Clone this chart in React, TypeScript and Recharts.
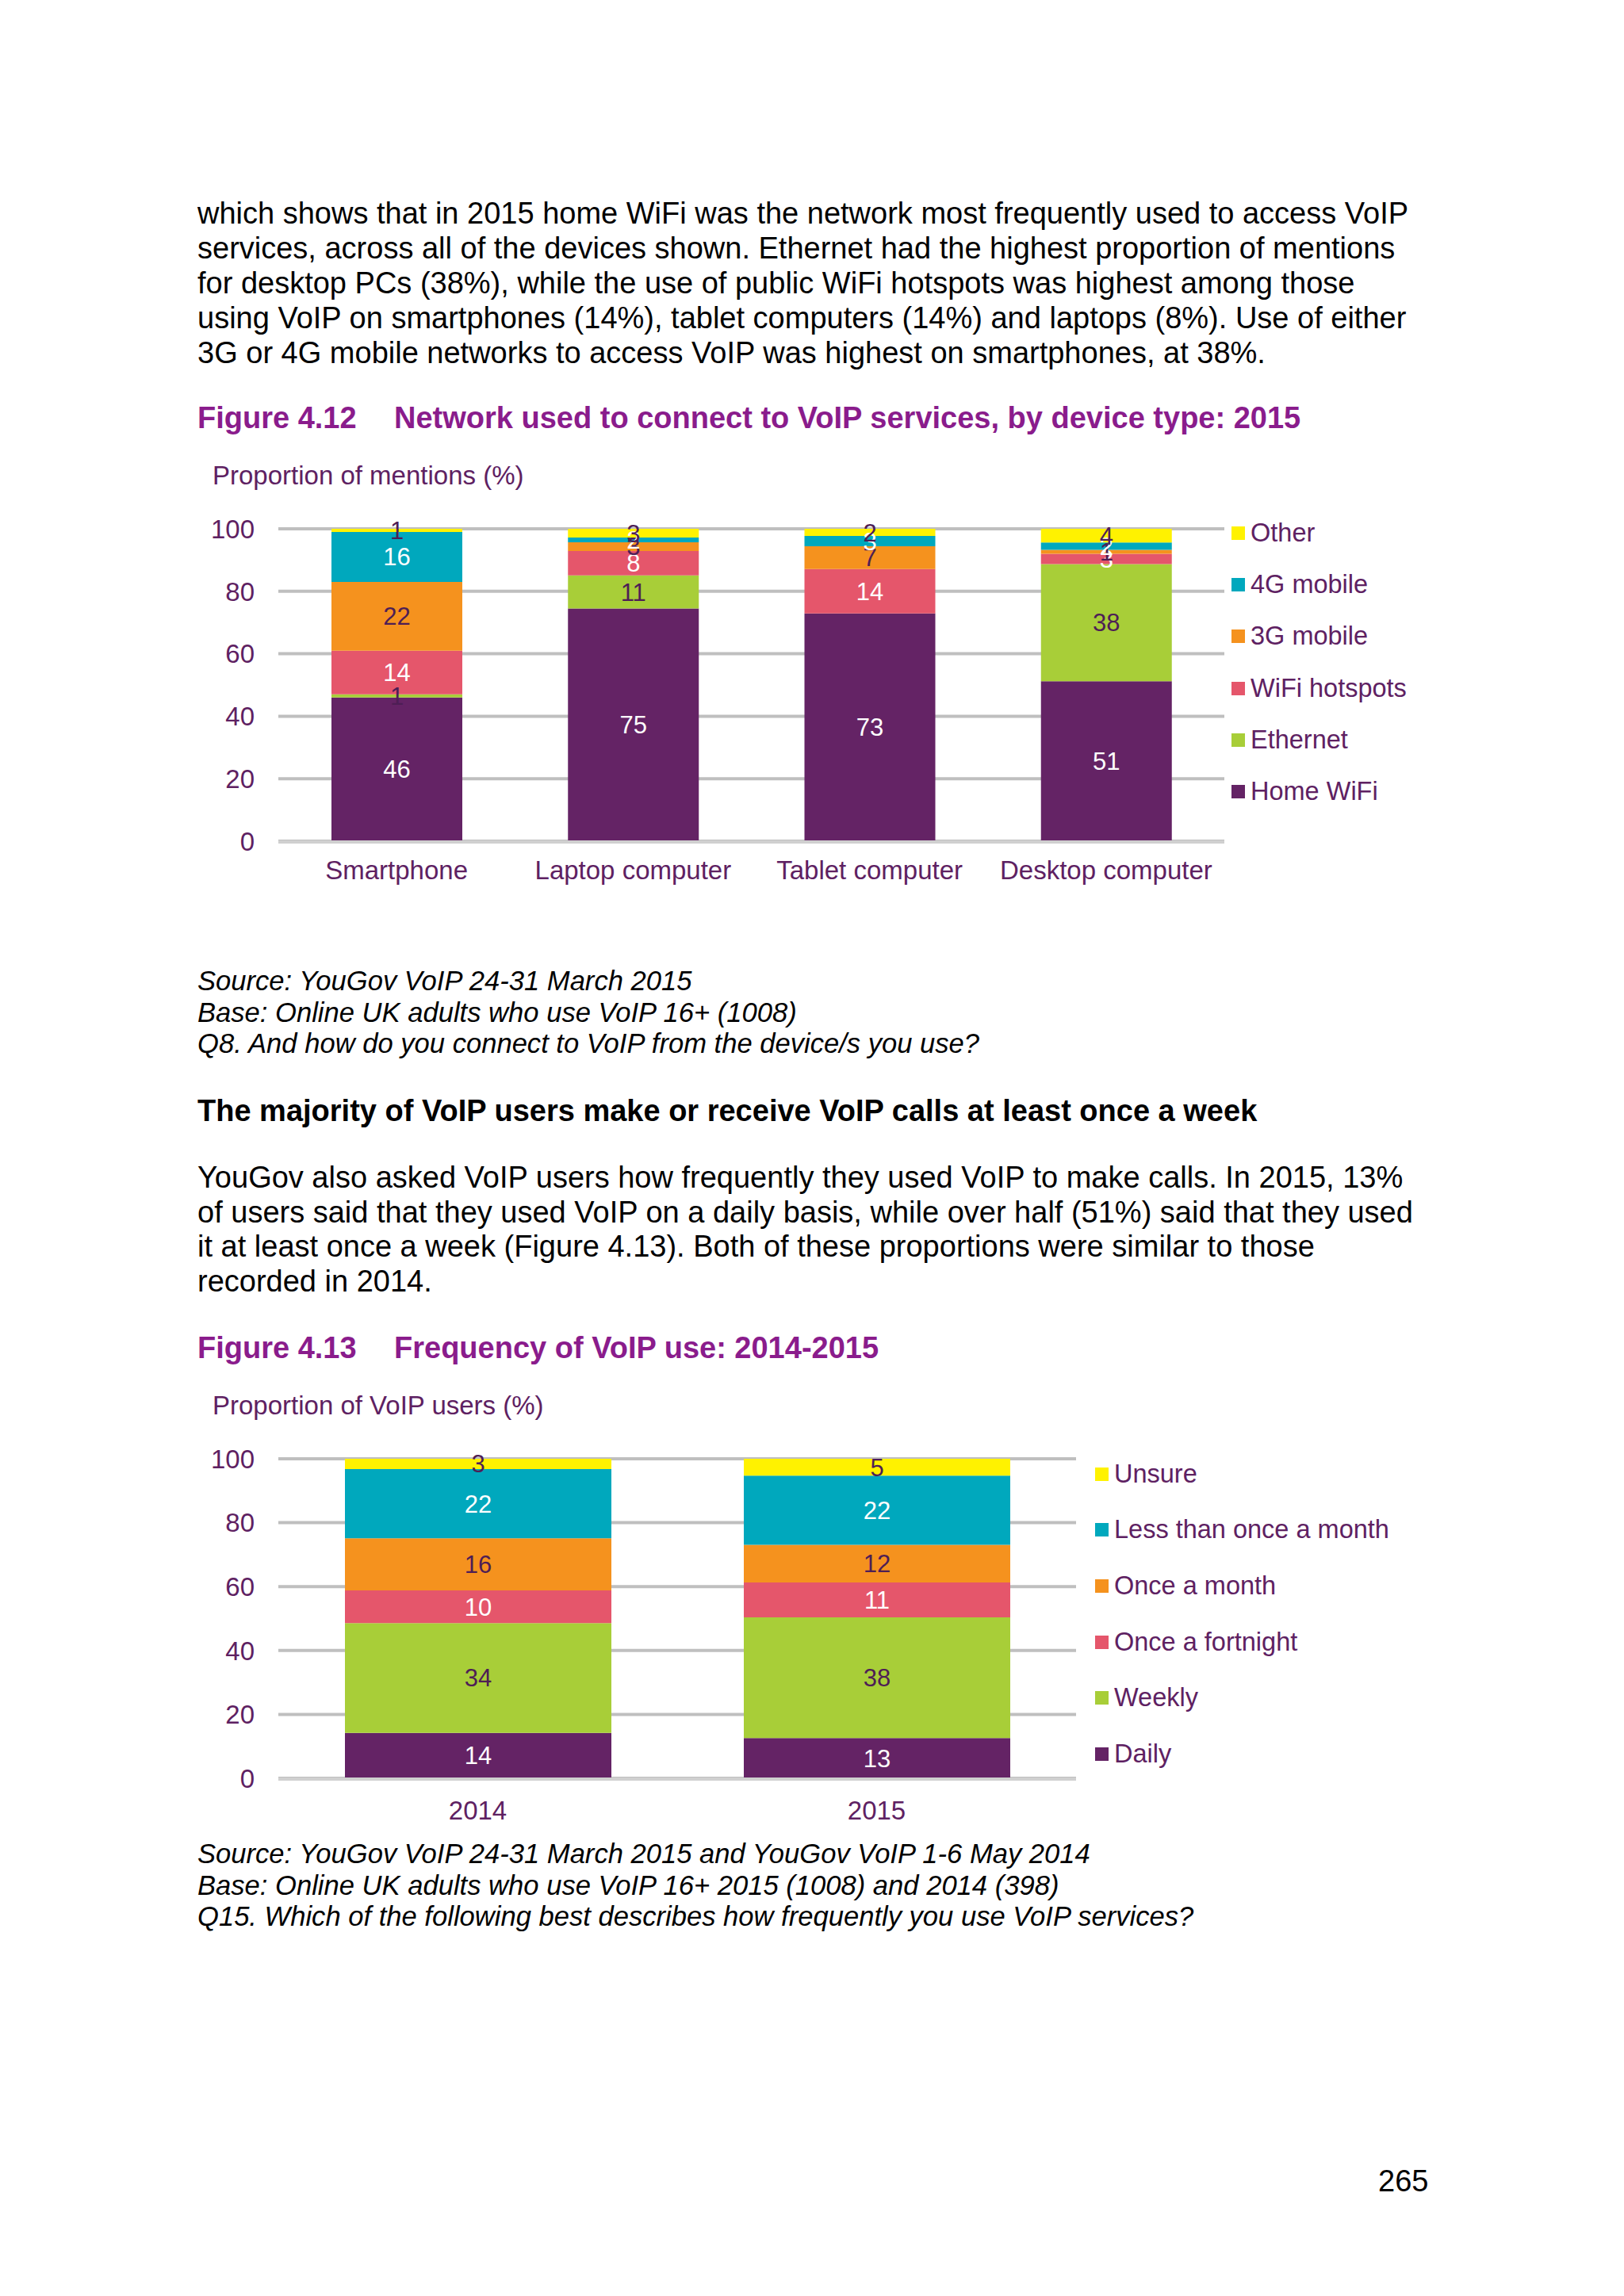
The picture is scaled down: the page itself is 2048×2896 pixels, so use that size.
import React from "react";
import {
  BarChart,
  Bar,
  XAxis,
  YAxis,
  CartesianGrid,
  LabelList,
  Legend,
} from "recharts";

// ============================================================================
// Data
// ============================================================================

const devices = ["Smartphone", "Laptop computer", "Tablet computer", "Desktop computer"];
const homeWifi = [46, 74.5, 72.9, 51.2];
const ethernet = [1, 10.6, 0, 37.5];
const wifiHotspots = [14, 7.8, 14.2, 3.3];
const mobile3g = [22, 2.8, 7.3, 1.3];
const mobile4g = [16, 1.5, 3.3, 2.3];
const otherNet = [1, 2.8, 2.3, 4.4];

const years = ["2014", "2015"];
const daily = [14.2, 12.6];
const weekly = [34.4, 37.8];
const fortnightly = [10.2, 10.9];
const monthly = [16.3, 11.8];
const lessThanMonthly = [21.7, 21.6];
const unsure = [3.2, 5.3];

const yTicks = [0, 20, 40, 60, 80, 100];

// ============================================================================
// Theme
// ============================================================================

const FONT = '"Liberation Sans", Arial, Helvetica, sans-serif';
const TITLE = "#8A1C8C";
const CHART_TEXT = "#5E2162";
const DARK_LABEL = "#4E1E55";
const GRID = "#BFBFBF";

const C = {
  purple: "#642365",
  lime: "#A8CE38",
  pink: "#E5566B",
  orange: "#F5921E",
  teal: "#00A8BD",
  yellow: "#FFF200",
};

const networkSeries = [
  { key: "home", name: "Home WiFi", values: homeWifi, color: C.purple, label: "#fff" },
  { key: "eth", name: "Ethernet", values: ethernet, color: C.lime, label: DARK_LABEL },
  { key: "hot", name: "WiFi hotspots", values: wifiHotspots, color: C.pink, label: "#fff" },
  { key: "g3", name: "3G mobile", values: mobile3g, color: C.orange, label: DARK_LABEL },
  { key: "g4", name: "4G mobile", values: mobile4g, color: C.teal, label: "#fff" },
  { key: "oth", name: "Other", values: otherNet, color: C.yellow, label: DARK_LABEL },
];

const freqSeries = [
  { key: "daily", name: "Daily", values: daily, color: C.purple, label: "#fff" },
  { key: "weekly", name: "Weekly", values: weekly, color: C.lime, label: DARK_LABEL },
  { key: "fort", name: "Once a fortnight", values: fortnightly, color: C.pink, label: "#fff" },
  { key: "month", name: "Once a month", values: monthly, color: C.orange, label: DARK_LABEL },
  { key: "less", name: "Less than once a month", values: lessThanMonthly, color: C.teal, label: "#fff" },
  { key: "unsure", name: "Unsure", values: unsure, color: C.yellow, label: DARK_LABEL },
];

type Series = typeof networkSeries;

function buildRows(cats: string[], series: Series) {
  return cats.map((cat, i) => {
    const row: Record<string, string | number> = { cat };
    series.forEach((s) => {
      row[s.key] = s.values[i];
    });
    return row;
  });
}

// ============================================================================
// Page text
// ============================================================================

const para1 = [
  "which shows that in 2015 home WiFi was the network most frequently used to access VoIP",
  "services, across all of the devices shown. Ethernet had the highest proportion of mentions",
  "for desktop PCs (38%), while the use of public WiFi hotspots was highest among those",
  "using VoIP on smartphones (14%), tablet computers (14%) and laptops (8%). Use of either",
  "3G or 4G mobile networks to access VoIP was highest on smartphones, at 38%.",
];

const para2 = [
  "YouGov also asked VoIP users how frequently they used VoIP to make calls. In 2015, 13%",
  "of users said that they used VoIP on a daily basis, while over half (51%) said that they used",
  "it at least once a week (Figure 4.13). Both of these proportions were similar to those",
  "recorded in 2014.",
];

const source1 = [
  "Source: YouGov VoIP 24-31 March 2015",
  "Base: Online UK adults who use VoIP 16+ (1008)",
  "Q8. And how do you connect to VoIP from the device/s you use?",
];

const source2 = [
  "Source: YouGov VoIP 24-31 March 2015 and YouGov VoIP 1-6 May 2014",
  "Base: Online UK adults who use VoIP 16+ 2015 (1008) and 2014 (398)",
  "Q15. Which of the following best describes how frequently you use VoIP services?",
];

function TextBlock({
  lines,
  top,
  left = 249,
  lineHeight = 44,
  style,
}: {
  lines: string[];
  top: number;
  left?: number;
  lineHeight?: number;
  style?: React.CSSProperties;
}) {
  return (
    <div style={{ position: "absolute", top, left, ...style }}>
      {lines.map((l, i) => (
        <div key={i} style={{ height: lineHeight, lineHeight: `${lineHeight}px`, whiteSpace: "nowrap" }}>
          {l}
        </div>
      ))}
    </div>
  );
}

// ============================================================================
// Chart
// ============================================================================

interface StackedProps {
  cats: string[];
  series: Series;
  width: number;
  height: number;
  margin: { top: number; right: number; bottom: number; left: number };
  barSize: number;
  xLabelMargin: number;
  legendLeft: number;
  legendTop: number;
  legendRow: number;
}

function StackedChart({
  cats,
  series,
  width,
  height,
  margin,
  barSize,
  xLabelMargin,
  legendLeft,
  legendTop,
  legendRow,
}: StackedProps) {
  const rows = buildRows(cats, series);
  const frameTicks = cats.map((_, i) => i).concat(cats.length);
  const order = series.map((s) => s.key);

  return (
    <BarChart width={width} height={height} data={rows} margin={margin} barSize={barSize}>
      <CartesianGrid vertical={false} stroke={GRID} strokeWidth={4} />
      <XAxis
        dataKey="cat"
        height={1}
        axisLine={false}
        tickLine={false}
        tickSize={0}
        tickMargin={xLabelMargin}
        tick={{ fill: CHART_TEXT, fontSize: 33 }}
        interval={0}
      />
      <XAxis
        xAxisId="frame"
        type="number"
        domain={[0, cats.length]}
        ticks={frameTicks}
        allowDataOverflow
        height={1}
        tick={false}
        tickSize={11}
        tickLine={{ stroke: "#CFCFCF", strokeWidth: 3 }}
        axisLine={{ stroke: "#D0D0D0", strokeWidth: 4 }}
      />
      <YAxis
        domain={[0, 100]}
        ticks={yTicks}
        allowDataOverflow
        width={101}
        axisLine={false}
        tickLine={false}
        tickSize={0}
        tickMargin={30}
        tick={{ fill: CHART_TEXT, fontSize: 33 }}
      />
      <Legend
        layout="vertical"
        align="center"
        verticalAlign="middle"
        wrapperStyle={{ left: legendLeft, top: legendTop, width: 500 }}
        content={(props: any) => {
          const items = [...(props.payload || [])].sort(
            (a: any, b: any) => order.indexOf(b.dataKey) - order.indexOf(a.dataKey)
          );
          return (
            <div>
              {items.map((it: any) => (
                <div
                  key={it.value}
                  style={{
                    height: legendRow,
                    display: "flex",
                    alignItems: "center",
                    fontSize: 32.5,
                    color: CHART_TEXT,
                  }}
                >
                  <span
                    style={{
                      width: 17,
                      height: 17,
                      background: it.color,
                      marginRight: 7,
                      display: "inline-block",
                    }}
                  />
                  {it.value}
                </div>
              ))}
            </div>
          );
        }}
      />
      {series.map((s) => (
        <Bar
          key={s.key}
          dataKey={s.key}
          name={s.name}
          stackId="a"
          fill={s.color}
          isAnimationActive={false}
        >
          <LabelList
            dataKey={s.key}
            position="center"
            fill={s.label}
            fontSize={31}
            formatter={(v: any) => (v >= 0.5 ? Math.round(v) : "")}
          />
        </Bar>
      ))}
    </BarChart>
  );
}

// ============================================================================
// App
// ============================================================================

export default function App() {
  return (
    <div
      style={{
        position: "absolute",
        left: 0,
        top: 0,
        width: 2048,
        height: 2896,
        background: "#fff",
        fontFamily: FONT,
        color: "#000",
        fontSize: 38,
        overflow: "hidden",
      }}
    >
      <TextBlock lines={para1} top={247} />

      <div style={{ position: "absolute", top: 505, left: 249, color: TITLE, fontWeight: 700, lineHeight: "44px" }}>
        Figure 4.12
      </div>
      <div style={{ position: "absolute", top: 505, left: 497, color: TITLE, fontWeight: 700, lineHeight: "44px", whiteSpace: "nowrap" }}>
        Network used to connect to VoIP services, by device type: 2015
      </div>
      <div style={{ position: "absolute", top: 580, left: 268, color: CHART_TEXT, fontSize: 33, lineHeight: "40px" }}>
        Proportion of mentions (%)
      </div>

      <div style={{ position: "absolute", left: 250, top: 620 }}>
        <StackedChart
          cats={devices}
          series={networkSeries}
          width={1550}
          height={500}
          margin={{ top: 47, right: 256, bottom: 57, left: 0 }}
          barSize={165}
          xLabelMargin={25}
          legendLeft={1303}
          legendTop={20}
          legendRow={65.2}
        />
      </div>

      <TextBlock lines={source1} top={1218} lineHeight={39.5} style={{ fontStyle: "italic", fontSize: 34.6 }} />

      <div style={{ position: "absolute", top: 1379, left: 249, fontWeight: 700, lineHeight: "44px", whiteSpace: "nowrap" }}>
        The majority of VoIP users make or receive VoIP calls at least once a week
      </div>

      <TextBlock lines={para2} top={1464} lineHeight={43.7} />

      <div style={{ position: "absolute", top: 1678, left: 249, color: TITLE, fontWeight: 700, lineHeight: "44px" }}>
        Figure 4.13
      </div>
      <div style={{ position: "absolute", top: 1678, left: 497, color: TITLE, fontWeight: 700, lineHeight: "44px", whiteSpace: "nowrap" }}>
        Frequency of VoIP use: 2014-2015
      </div>
      <div style={{ position: "absolute", top: 1753, left: 268, color: CHART_TEXT, fontSize: 33, lineHeight: "40px" }}>
        Proportion of VoIP users (%)
      </div>

      <div style={{ position: "absolute", left: 250, top: 1793 }}>
        <StackedChart
          cats={years}
          series={freqSeries}
          width={1550}
          height={509}
          margin={{ top: 47, right: 443, bottom: 57, left: 0 }}
          barSize={336}
          xLabelMargin={29}
          legendLeft={1131}
          legendTop={31}
          legendRow={70.6}
        />
      </div>

      <TextBlock lines={source2} top={2319} lineHeight={39.5} style={{ fontStyle: "italic", fontSize: 34.6 }} />

      <div style={{ position: "absolute", top: 2729, left: 1738, lineHeight: "44px" }}>265</div>
    </div>
  );
}
